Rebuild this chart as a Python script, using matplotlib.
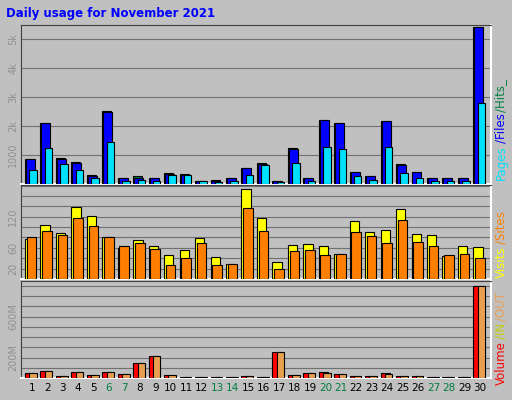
import numpy as np
import matplotlib.pyplot as plt

days = np.arange(1, 31)
hits = [0.86, 2.10, 0.90, 0.75, 0.30, 2.50, 0.19, 0.26, 0.22, 0.37, 0.34, 0.12, 0.15, 0.19, 0.54,
        0.72, 0.12, 1.25, 0.22, 2.20, 2.10, 0.40, 0.26, 2.17, 0.68, 0.40, 0.19, 0.19, 0.22, 5.39]
files = [0.86, 2.10, 0.86, 0.72, 0.26, 2.47, 0.19, 0.22, 0.22, 0.33, 0.31, 0.12, 0.12, 0.19, 0.54,
         0.68, 0.12, 1.22, 0.22, 2.20, 2.10, 0.40, 0.26, 2.17, 0.65, 0.40, 0.19, 0.19, 0.22, 5.39]
pages = [0.48, 1.25, 0.68, 0.47, 0.19, 1.44, 0.12, 0.15, 0.12, 0.30, 0.30, 0.12, 0.08, 0.12, 0.30,
         0.65, 0.08, 0.72, 0.12, 1.29, 1.22, 0.26, 0.15, 1.29, 0.37, 0.19, 0.12, 0.12, 0.12, 2.77]
visits = [77, 104, 88, 139, 122, 81, 59, 75, 63, 47, 55, 79, 43, 28, 173,
          118, 32, 65, 67, 63, 49, 112, 90, 94, 135, 86, 85, 45, 63, 61]
sites = [81, 92, 85, 118, 102, 81, 63, 69, 57, 26, 40, 69, 26, 28, 137,
         92, 20, 53, 55, 47, 49, 90, 83, 69, 114, 71, 63, 47, 49, 40]
volume = [53, 73, 23, 63, 33, 63, 43, 143, 213, 33, 10, 10, 10, 10, 23,
          10, 253, 33, 53, 63, 43, 23, 23, 53, 23, 23, 10, 10, 10, 900]
vol_out = [53, 73, 23, 63, 33, 63, 43, 143, 213, 33, 10, 10, 10, 10, 23,
           10, 253, 33, 53, 53, 43, 23, 23, 43, 23, 23, 10, 10, 10, 900]
weekends = [6, 7, 13, 14, 20, 21, 27, 28]

BG = '#c0c0c0'
fig = plt.figure(figsize=(5.12, 4.0), dpi=100, facecolor=BG)
fig.text(6/512, 1 - 13/400, 'Daily usage for November 2021', color='#0000ff',
         fontsize=8.5, fontweight='bold', va='center')

def panel(top, bot, ymax):
    ax = fig.add_axes([21/512, 1 - bot/400, 470/512, (bot - top)/400])
    ax.set_facecolor(BG)
    ax.set_xlim(0.74, 31.14)
    ax.set_ylim(0, ymax)
    for s in ('top', 'left'):
        ax.spines[s].set_color('#404040')
    for s in ('bottom', 'right'):
        ax.spines[s].set_color('white')
        ax.spines[s].set_linewidth(1.5)
    ax.set_xticks([])
    ax.tick_params(axis='y', length=0, labelsize=7, labelcolor='#909090', pad=2)
    return ax

def bars(ax, vals, off, w, color):
    ax.bar(days + off, vals, width=w, align='edge', color=color,
           edgecolor='black', linewidth=0.8, zorder=3)

# top panel
ax1 = panel(25, 184, 5.47)
for y in range(1, 6):
    ax1.axhline(y, color='#707070', lw=0.8, zorder=1)
ax1.set_yticks([1, 2, 3, 4, 5])
ax1.set_yticklabels(['1000', '2k', '3k', '4k', '5k'], rotation=90, va='center')
bars(ax1, hits, 0.0, 0.58, '#008040')
bars(ax1, files, 0.06, 0.58, '#0000ff')
bars(ax1, pages, 0.28, 0.48, '#00e0ff')

# middle panel
ax2 = panel(185, 279, 181)
for y in range(20, 181, 20):
    ax2.axhline(y, color='#707070', lw=0.8, zorder=1)
ax2.set_yticks([20, 60, 120])
ax2.set_yticklabels(['20', '60', '120'], rotation=90, va='center')
bars(ax2, visits, 0.0, 0.6, '#ffff00')
bars(ax2, sites, 0.11, 0.62, '#ff8000')

# bottom panel
ax3 = panel(281, 378, 947)
for y in range(100, 901, 100):
    ax3.axhline(y, color='#707070', lw=0.8, zorder=1)
ax3.set_yticks([200, 600])
ax3.set_yticklabels(['200M', '600M'], rotation=90, va='center')
bars(ax3, volume, 0.0, 0.58, '#ff0000')
bars(ax3, vol_out, 0.28, 0.48, '#e8a050')

for d in days:
    ax3.text(d + 0.43, -0.1, str(d), transform=ax3.get_xaxis_transform(),
             ha='center', va='center', fontsize=7.5,
             color='#008040' if d in weekends else 'black')

# right side labels, stacked bottom to top using measured extents
renderer = fig.canvas.get_renderer()
def side(parts, x, y0):
    y = 1 - y0/400
    for txt, col in parts:
        t = fig.text(x/512, y, txt, color=col, rotation=90, fontsize=8.5,
                     ha='center', va='bottom')
        bb = t.get_window_extent(renderer)
        y += (bb.height + 2) / 400
side([('Pages', '#00e0ff'), ('/Files', '#0000ff'), ('/Hits_', '#008040')], 501, 180)
side([('Visits', '#ffff00'), ('/Sites', '#ff8000')], 501, 278)
side([('Volume', '#ff0000'), ('/IN', '#c0d000'), ('/OUT', '#e8a050')], 501, 385)

fig.savefig('out.png', dpi=100, facecolor=BG)
